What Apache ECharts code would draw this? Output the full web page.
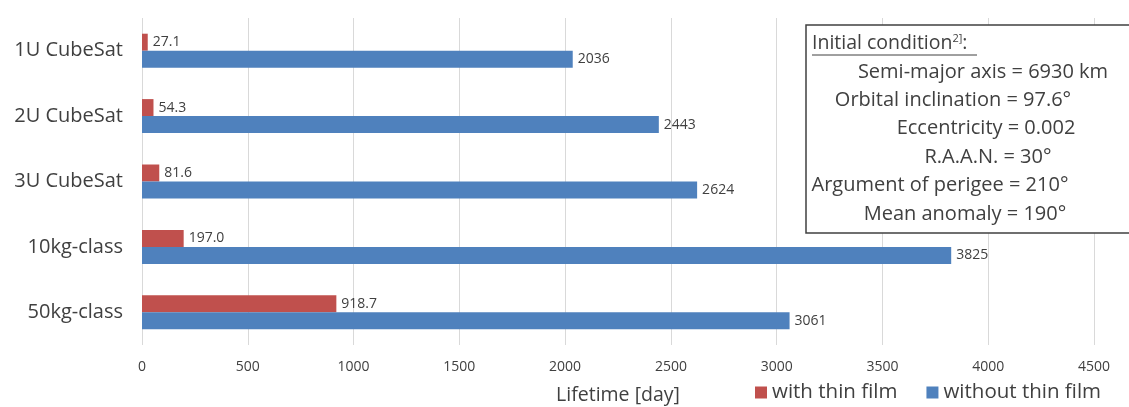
<!DOCTYPE html>
<html>
<head>
<meta charset="utf-8">
<script src="https://cdn.jsdelivr.net/npm/echarts@6/dist/echarts.min.js"></script>
<style>html,body{margin:0;padding:0;background:#fff}#c{width:1129px;height:407px}</style>
</head>
<body>
<div id="c"></div>
<script>
const categories = ['1U CubeSat', '2U CubeSat', '3U CubeSat', '10kg-class', '50kg-class'];
const withFilm = [27.1, 54.3, 81.6, 197.0, 918.7];
const withoutFilm = [2036, 2443, 2624, 3825, 3061];
const withFilmLabels = ['27.1', '54.3', '81.6', '197.0', '918.7'];
const xTicks = [0, 500, 1000, 1500, 2000, 2500, 3000, 3500, 4000, 4500];
const boxLines = [
  'Semi-major axis = 6930 km',
  'Orbital inclination = 97.6°',
  'Eccentricity = 0.002',
  'R.A.A.N. = 30°',
  'Argument of perigee = 210°',
  'Mean anomaly = 190°'
];

const FONT = '"Open Sans", Lato, sans-serif';
const TXT = '#404040';
const chart = echarts.init(document.getElementById('c'));

const lineCX = [983, 953, 986, 988, 940, 965];
const lineY = [72, 100, 128.5, 157, 185.5, 214];

const graphics = [
  {type: 'rect', shape: {x: 806, y: 25, width: 340, height: 208}, style: {fill: '#fff', stroke: '#404040', lineWidth: 1.5}, z: 100},
  {type: 'text', x: 812, y: 43, z: 101, style: {
    text: '{a|Initial condition}{s|2]}{a|:}', verticalAlign: 'middle',
    rich: {a: {fontSize: 19.5, fontFamily: FONT, fill: TXT}, s: {fontSize: 11, fontFamily: FONT, fill: TXT, verticalAlign: 'top', padding: [0,0,9,0]}}
  }},
  {type: 'line', shape: {x1: 812, y1: 55, x2: 977, y2: 55}, style: {stroke: '#404040', lineWidth: 1}, z: 101}
];
boxLines.forEach((t, i) => {
  graphics.push({type: 'text', x: lineCX[i], y: lineY[i], z: 101, style: {text: t, fontSize: 20, fontFamily: FONT, fill: TXT, align: 'center', verticalAlign: 'middle'}});
});

chart.setOption({
  animation: false,
  textStyle: {fontFamily: FONT},
  grid: {left: 142, right: 35, top: 18, bottom: 62, containLabel: false, outerBoundsMode: 'none'},
  legend: {
    data: ['with thin film', 'without thin film'],
    left: 750, top: 377, itemWidth: 12, itemHeight: 12, itemGap: 29,
    icon: 'rect',
    textStyle: {fontSize: 20.5, color: TXT, fontFamily: FONT}
  },
  xAxis: {
    type: 'value', min: 0, max: 4500, interval: 500,
    axisLine: {show: false}, axisTick: {show: false},
    splitLine: {lineStyle: {color: '#d9d9d9', width: 1}},
    axisLabel: {fontSize: 14, color: TXT, margin: 15, fontFamily: FONT, formatter: v => String(v)},
    name: 'Lifetime [day]', nameLocation: 'middle', nameGap: 40,
    nameTextStyle: {fontSize: 19.5, color: TXT, fontFamily: FONT}
  },
  yAxis: {
    type: 'category', data: categories, inverse: true,
    axisLine: {show: false}, axisTick: {show: false},
    axisLabel: {fontSize: 20, color: TXT, margin: 19, fontFamily: FONT}
  },
  series: [
    {
      name: 'with thin film', type: 'bar', data: withFilm, barWidth: 17, barGap: '0%',
      itemStyle: {color: '#C0504D'},
      label: {show: true, position: 'right', distance: 5, fontSize: 14, color: TXT, fontFamily: FONT,
        formatter: p => withFilmLabels[p.dataIndex]}
    },
    {
      name: 'without thin film', type: 'bar', data: withoutFilm, barWidth: 17, barGap: '0%',
      itemStyle: {color: '#4F81BD'},
      label: {show: true, position: 'right', distance: 5, fontSize: 14, color: TXT, fontFamily: FONT}
    }
  ],
  graphic: graphics
});
</script>
</body>
</html>
